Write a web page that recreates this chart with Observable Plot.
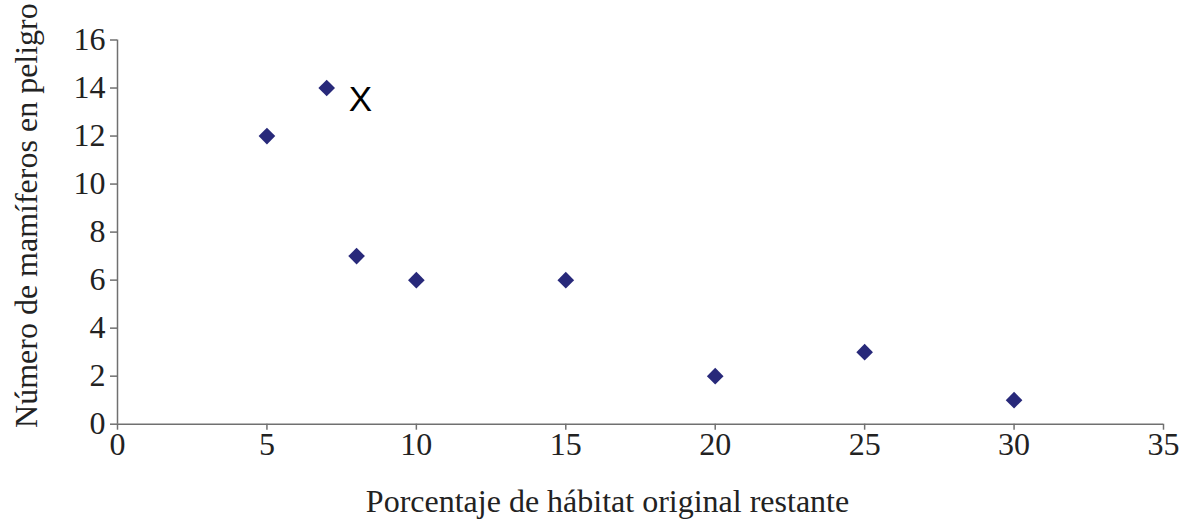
<!DOCTYPE html>
<html>
<head>
<meta charset="utf-8">
<script src="https://cdn.jsdelivr.net/npm/d3@7"></script>
<script src="https://cdn.jsdelivr.net/npm/@observablehq/plot@0.6"></script>
<style>
  html, body { margin: 0; padding: 0; background: #fff; }
</style>
</head>
<body>
<div id="chart"></div>
<script>
const habitatPct = [5, 7, 8, 10, 15, 20, 25, 30];
const endangered = [12, 14, 7, 6, 6, 2, 3, 1];
const xTicks = [0, 5, 10, 15, 20, 25, 30, 35];
const yTicks = [0, 2, 4, 6, 8, 10, 12, 14, 16];
const annotation = [{x: 8.13, y: 13.5, text: "X"}];
const xTitle = "Porcentaje de hábitat original restante";
const yTitle = "Número de mamíferos en peligro";

const points = habitatPct.map((x, i) => ({x, y: endangered[i]}));
const axisColor = "#707070";
const textColor = "#222";
const serif = "Liberation Serif";

const chart = Plot.plot({
  width: 1187,
  height: 524,
  marginLeft: 117,
  marginRight: 24,
  marginTop: 39.5,
  marginBottom: 100.3,
  style: {fontFamily: serif, color: axisColor, background: "#fff"},
  x: {domain: [0, 35]},
  y: {domain: [0, 16]},
  marks: [
    Plot.axisX({ticks: xTicks, tickSize: 6, tickPadding: 2, fontSize: 32, fontFamily: serif, strokeWidth: 1.5, label: null, tickFormat: d => String(d), fill: textColor}),
    Plot.axisY({ticks: yTicks, tickSize: 7, tickPadding: 5, fontSize: 32, fontFamily: serif, strokeWidth: 1.5, label: null, tickFormat: d => String(d), fill: textColor}),
    Plot.ruleY([0], {stroke: axisColor, strokeWidth: 1.5}),
    Plot.ruleX([0], {stroke: axisColor, strokeWidth: 1.5}),
    Plot.dot(points, {x: "x", y: "y", symbol: "diamond2", r: 7.5, fill: "#28297a", stroke: "none"}),
    Plot.text(annotation, {x: "x", y: "y", text: "text", fontSize: 35, fontFamily: "Liberation Sans", fill: "#000", textAnchor: "middle", lineAnchor: "middle"}),
    Plot.text([xTitle], {frameAnchor: "bottom", dx: -33, dy: 88, fontSize: 32, fontFamily: serif, lineAnchor: "bottom", textAnchor: "middle", fill: textColor}),
    Plot.text([yTitle], {frameAnchor: "left", dx: -81, dy: -16.5, rotate: -90, fontSize: 32, fontFamily: serif, lineAnchor: "bottom", textAnchor: "middle", fill: textColor})
  ]
});
document.getElementById("chart").appendChild(chart);
</script>
</body>
</html>
